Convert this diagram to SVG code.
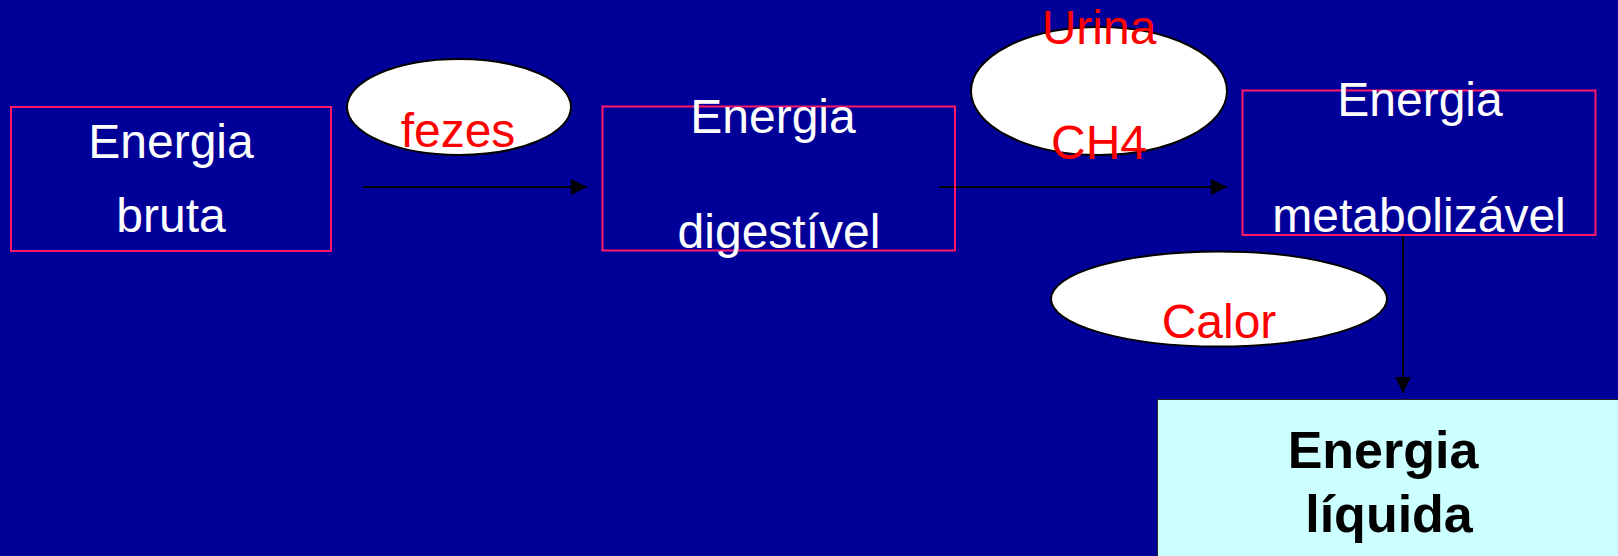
<svg xmlns="http://www.w3.org/2000/svg" width="1618" height="556" viewBox="0 0 1618 556">
  <style>
    .box { fill: none; stroke: #FF1966; stroke-width: 2; }
    .loss { fill: #FFFFFF; stroke: #000000; stroke-width: 2; }
    .label { font-family: "Liberation Sans", Arial, sans-serif; font-size: 48px; fill: #FFFFFF; text-anchor: middle; }
    .red { fill: #FF0000; }
    .net { font-family: "Liberation Sans", Arial, sans-serif; font-size: 52px; font-weight: bold; fill: #000000; text-anchor: middle; }
    .flow { stroke: #000000; stroke-width: 2; fill: none; }
  </style>
  <defs>
    <marker id="head" markerUnits="userSpaceOnUse" markerWidth="16" markerHeight="16" refX="16" refY="8" orient="auto">
      <path d="M0,0 L16,8 L0,16 Z" fill="#000000"/>
    </marker>
  </defs>

  <rect x="0" y="0" width="1618" height="556" fill="#000099"/>

  <!-- flow arrows -->
  <g id="connectors">
    <line class="flow" x1="363" y1="187" x2="587" y2="187" marker-end="url(#head)"/>
    <line class="flow" x1="939" y1="187" x2="1227" y2="187" marker-end="url(#head)"/>
    <line class="flow" x1="1403" y1="235" x2="1403" y2="393" marker-end="url(#head)"/>
  </g>

  <g id="energia-bruta">
    <rect class="box" x="11" y="107" width="320" height="144"/>
    <text class="label" x="171" y="158">Energia</text>
    <text class="label" x="171" y="232">bruta</text>
  </g>

  <g id="fezes">
    <ellipse class="loss" cx="459" cy="107" rx="112" ry="48"/>
    <text class="label red" x="458" y="147">fezes</text>
  </g>

  <g id="energia-digestivel">
    <rect class="box" x="602.5" y="106.5" width="352.5" height="144"/>
    <text class="label" x="773" y="133">Energia</text>
    <text class="label" x="779" y="248">digestível</text>
  </g>

  <g id="urina-ch4">
    <ellipse class="loss" cx="1099" cy="91" rx="128" ry="64"/>
    <text class="label red" x="1099" y="44">Urina</text>
    <text class="label red" x="1099" y="159">CH4</text>
  </g>

  <g id="energia-metabolizavel">
    <rect class="box" x="1242.5" y="90.5" width="353" height="144.5"/>
    <text class="label" x="1420" y="116">Energia</text>
    <text class="label" x="1419" y="232">metabolizável</text>
  </g>

  <g id="calor">
    <ellipse class="loss" cx="1219" cy="299" rx="168" ry="47.5"/>
    <text class="label red" x="1219" y="338">Calor</text>
  </g>

  <g id="energia-liquida">
    <rect x="1157.5" y="399.5" width="470" height="170" fill="#CCFFFF" stroke="#222222" stroke-width="1"/>
    <text class="net" x="1383" y="468">Energia</text>
    <text class="net" x="1389" y="532">líquida</text>
  </g>
</svg>
